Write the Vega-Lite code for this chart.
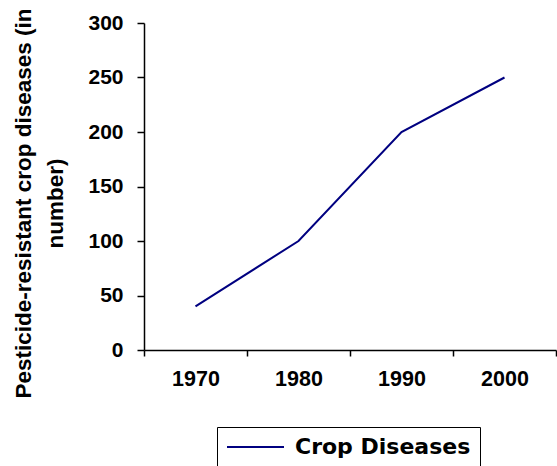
{
  "$schema": "https://vega.github.io/schema/vega-lite/v6.json",
  "width": 412,
  "height": 327,
  "autosize": {"type": "none"},
  "padding": {"left": 144, "top": 23, "right": 1, "bottom": 116},
  "background": "white",
  "config": {"view": {"stroke": null}, "font": "Liberation Sans"},
  "data": {
    "values": [
      {"year": 1970, "value": 40, "series": "Crop Diseases"},
      {"year": 1980, "value": 100, "series": "Crop Diseases"},
      {"year": 1990, "value": 200, "series": "Crop Diseases"},
      {"year": 2000, "value": 250, "series": "Crop Diseases"}
    ]
  },
  "mark": {"type": "line", "strokeWidth": 2},
  "encoding": {
    "x": {
      "field": "year",
      "type": "quantitative",
      "scale": {"domain": [1965, 2005], "nice": false, "zero": false},
      "axis": {
        "values": [1965, 1970, 1975, 1980, 1985, 1990, 1995, 2000, 2005],
        "format": "d",
        "title": null,
        "grid": false,
        "domainColor": "black",
        "domainWidth": 1.5,
        "tickColor": "black",
        "tickWidth": 1.5,
        "tickSize": 6,
        "tickOpacity": {"condition": {"test": "datum.value % 10 === 5", "value": 1}, "value": 0},
        "labelOpacity": {"condition": {"test": "datum.value % 10 === 0", "value": 1}, "value": 0},
        "labelFontSize": 21.5,
        "labelFontWeight": "bold",
        "labelColor": "black",
        "labelPadding": 12,
        "labelFlush": false,
        "labelOverlap": false
      }
    },
    "y": {
      "field": "value",
      "type": "quantitative",
      "scale": {"domain": [0, 300], "nice": false},
      "axis": {
        "values": [0, 50, 100, 150, 200, 250, 300],
        "title": ["Pesticide-resistant crop diseases (in", "number)"],
        "titleFontSize": 22.5,
        "titleFontWeight": "bold",
        "titleColor": "black",
        "titleAngle": -90,
        "titleAlign": "center",
        "titleBaseline": "alphabetic",
        "titleLineHeight": 32,
        "titleX": -114,
        "titleY": 180,
        "grid": false,
        "domainColor": "black",
        "domainWidth": 1.5,
        "tickColor": "black",
        "tickWidth": 1.5,
        "tickSize": 7,
        "labelFontSize": 21,
        "labelFontWeight": "bold",
        "labelColor": "black",
        "labelPadding": 14,
        "labelFlush": false,
        "labelOverlap": false
      }
    },
    "color": {
      "field": "series",
      "type": "nominal",
      "scale": {"range": ["#000080"]},
      "legend": {
        "orient": "none",
        "legendX": 73,
        "legendY": 404,
        "title": null,
        "strokeColor": "black",
        "fillColor": "white",
        "padding": 9,
        "symbolType": "M-2.85,0H2.85",
        "symbolSize": 400,
        "symbolOffset": 18.5,
        "symbolStrokeWidth": 2,
        "labelFont": "DejaVu Sans",
        "labelFontSize": 22,
        "labelFontWeight": "bold",
        "labelColor": "black",
        "labelOffset": 28.5,
        "labelLimit": 400
      }
    }
  }
}
